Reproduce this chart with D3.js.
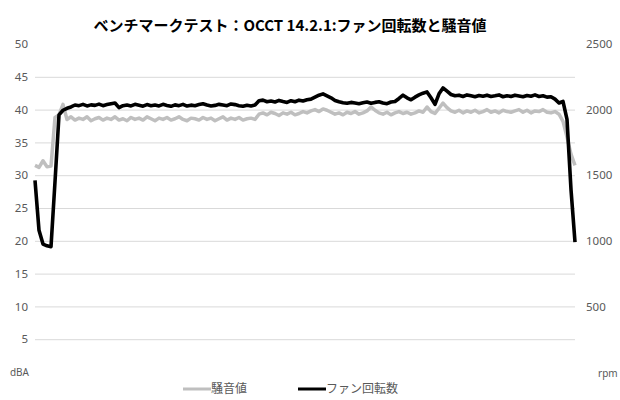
<!DOCTYPE html>
<html>
<head>
<meta charset="utf-8">
<script src="https://cdnjs.cloudflare.com/ajax/libs/d3/7.8.5/d3.min.js"></script>
<style>
  body { margin: 0; background: #fff; }
  text { font-family: "Noto Sans", "Noto Sans CJK JP", sans-serif; }
</style>
</head>
<body>
<div id="chart"></div>
<script>
const title = "ベンチマークテスト：OCCT 14.2.1:ファン回転数と騒音値";
const seriesNames = ["騒音値", "ファン回転数"];
const dbaTicks = [5, 10, 15, 20, 25, 30, 35, 40, 45, 50];
const rpmTicks = [500, 1000, 1500, 2000, 2500];

// fan speed (rpm, right axis)
const fanRpm = [
  1460, 1080, 975, 962, 955, 1450, 1960, 1995, 2010, 2020,
  2035, 2030, 2040, 2028, 2036, 2032, 2042, 2030, 2038, 2045,
  2050, 2015, 2030, 2035, 2028, 2040, 2033, 2026, 2038, 2030,
  2035, 2028, 2040, 2032, 2025, 2036, 2030, 2040, 2027, 2034,
  2030, 2038, 2045, 2035, 2028, 2032, 2040, 2035, 2030, 2043,
  2038, 2030, 2025, 2033, 2028, 2035, 2068, 2072, 2060, 2066,
  2058, 2070, 2062, 2055, 2068, 2060, 2072, 2065, 2075, 2080,
  2095, 2110, 2120, 2105, 2090, 2070, 2060, 2052, 2048, 2055,
  2050, 2045, 2052, 2058, 2048, 2055, 2060, 2050, 2045, 2058,
  2062, 2085, 2110, 2090, 2075, 2095, 2112, 2125, 2135, 2090,
  2040, 2120, 2165, 2140, 2115, 2105, 2110, 2100, 2112, 2105,
  2098, 2108, 2102, 2110, 2100, 2105, 2112, 2098, 2106, 2100,
  2110, 2104, 2098, 2108, 2102, 2112, 2100, 2106, 2095, 2098,
  2080, 2050, 2062, 1926, 1390, 990
];

// noise level (dBA, left axis)
const noiseDba = [
  31.5, 31.2, 32.2, 31.3, 31.4, 38.8, 39.2, 40.8, 38.5, 38.9,
  38.4, 38.7, 38.5, 38.9, 38.3, 38.6, 38.8, 38.4, 38.7, 38.5,
  38.9, 38.4, 38.6, 38.3, 38.8, 38.5, 38.7, 38.4, 38.9, 38.6,
  38.3, 38.7, 38.5, 38.8, 38.4, 38.6, 38.9, 38.5, 38.3, 38.7,
  38.6, 38.4, 38.8, 38.5, 38.7, 38.3, 38.6, 38.9, 38.4, 38.7,
  38.5, 38.8, 38.4, 38.6, 38.7, 38.5, 39.3, 39.5, 39.2, 39.6,
  39.4, 39.1, 39.5, 39.3, 39.6, 39.2, 39.4, 39.7, 39.5, 39.8,
  40.0, 39.7, 40.1, 39.9, 39.6, 39.3, 39.5, 39.2, 39.6, 39.4,
  39.7, 39.3, 39.5, 39.8, 40.4, 39.9, 39.5, 39.3, 39.6, 39.2,
  39.5, 39.7, 39.4, 39.6, 39.3, 39.5, 39.8, 39.6, 40.4, 39.7,
  39.4, 40.2, 41.0, 40.3, 39.8, 39.6, 39.9, 39.5, 39.8, 39.6,
  39.9, 39.5, 39.7, 40.0, 39.6, 39.8, 39.5, 39.9, 39.7, 39.6,
  39.8, 40.0, 39.6, 39.9, 39.5, 39.8, 39.7, 40.0, 39.6, 39.5,
  39.7, 39.3, 38.2, 35.8, 33.2, 31.5
];

const W = 620, H = 400;
const margin = { top: 44, right: 45, bottom: 28, left: 35 };
const plotW = W - margin.left - margin.right,
    plotH = H - margin.top - margin.bottom;

const svg = d3.select("#chart")
    .append("svg")
    .attr("width", W)
    .attr("height", H);

const g = svg.append("g")
    .attr("transform", `translate(${margin.left}, ${margin.top})`);

const x = d3.scaleLinear()
    .domain([0, fanRpm.length - 1])
    .range([0, plotW]);
const yL = d3.scaleLinear().domain([0, 50]).range([plotH, 0]);
const yR = d3.scaleLinear().domain([0, 2500]).range([plotH, 0]);

// gridlines
g.append("g")
    .call(d3.axisLeft(yL).tickValues(dbaTicks.slice(0, -1)).tickSize(-plotW).tickFormat(""))
    .call(a => a.select(".domain").remove())
    .call(a => a.selectAll(".tick line").attr("stroke", "#d9d9d9"));

// left axis labels
g.append("g")
    .call(d3.axisLeft(yL).tickValues(dbaTicks).tickSize(0).tickPadding(7).tickFormat(d3.format("d")))
    .call(a => a.select(".domain").remove())
    .call(a => a.selectAll("text").attr("fill", "#595959").style("font-size", "11.5px"));

// right axis labels
g.append("g")
    .attr("transform", `translate(${plotW}, 0)`)
    .call(d3.axisRight(yR).tickValues(rpmTicks).tickSize(0).tickPadding(11).tickFormat(d3.format("d")))
    .call(a => a.select(".domain").remove())
    .call(a => a.selectAll("text").attr("fill", "#595959").style("font-size", "11.5px"));

// unit labels at zero level
g.append("text")
    .attr("x", -6).attr("y", yL(0)).attr("dy", "0.35em")
    .attr("text-anchor", "end")
    .attr("fill", "#595959").style("font-size", "10px")
    .text("dBA");
g.append("text")
    .attr("x", plotW + 23).attr("y", yL(0)).attr("dy", "0.5em")
    .attr("fill", "#595959").style("font-size", "10px")
    .text("rpm");

// lines
const noiseLine = d3.line()
    .x((d, i) => x(i))
    .y(d => yL(d));
const fanLine = d3.line()
    .x((d, i) => x(i))
    .y(d => yR(d));

g.append("path")
    .datum(noiseDba)
    .attr("fill", "none")
    .attr("stroke", "#bfbfbf")
    .attr("stroke-width", 3.5)
    .attr("stroke-linejoin", "round")
    .attr("d", noiseLine);

g.append("path")
    .datum(fanRpm)
    .attr("fill", "none")
    .attr("stroke", "#000")
    .attr("stroke-width", 3.6)
    .attr("stroke-linejoin", "round")
    .attr("d", fanLine);

// title
svg.append("text")
    .attr("x", 290).attr("y", 31)
    .attr("text-anchor", "middle")
    .style("font-family", "'Noto Sans CJK JP', sans-serif")
    .style("font-size", "15px")
    .style("font-weight", "bold")
    .attr("fill", "#000")
    .text(title);

// legend
const legend = [
  { name: seriesNames[0], color: "#bfbfbf", x: 183 },
  { name: seriesNames[1], color: "#000", x: 298 }
];
const lg = svg.append("g").attr("transform", "translate(0, 389)");
legend.forEach(d => {
    lg.append("line")
        .attr("x1", d.x).attr("x2", d.x + 28)
        .attr("y1", 0).attr("y2", 0)
        .attr("stroke", d.color).attr("stroke-width", 3);
    lg.append("text")
        .attr("x", d.x + 28).attr("y", 0).attr("dy", "0.35em")
        .style("font-family", "'Noto Sans CJK JP', sans-serif")
        .style("font-size", "12px")
        .attr("fill", "#595959")
        .text(d.name);
});
</script>
</body>
</html>
